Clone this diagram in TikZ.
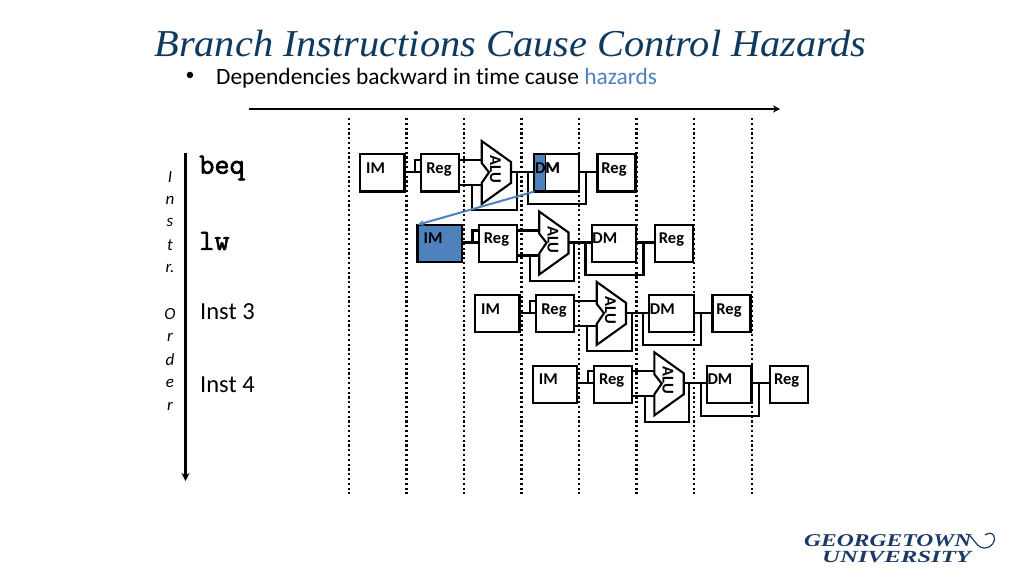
\documentclass[tikz,border=0pt]{standalone}
\usepackage{fontspec}
\setmainfont{Carlito}[Ligatures=CommonOff]
\newfontfamily\serifit{Liberation Serif}
\newfontfamily\monob{Latin Modern Mono}[FakeBold=2]
\usetikzlibrary{arrows.meta,calc}
\definecolor{titlecol}{HTML}{0F3A5F}
\definecolor{accent}{HTML}{4F81BD}
\definecolor{logocol}{HTML}{1C3A66}
\tikzset{
  stagebox/.style={draw=black,line width=2.1pt,fill=white,minimum width=44.5pt,minimum height=37.2pt,inner sep=0pt,outer sep=0pt},
  regbox/.style={stagebox,minimum width=38pt},
  stagetext/.style={font=\fontsize{16.5}{17}\selectfont\bfseries,inner sep=0pt},
  wire/.style={draw=black,line width=2.1pt,line join=miter},
  timeline/.style={draw=black,line width=2.1pt,dash pattern=on 2.2pt off 2.6pt},
  toparrow/.style={draw=black,line width=2pt,-{Stealth[length=7pt,width=7pt]}},
  sidearrow/.style={draw=black,line width=2.5pt,-{Stealth[length=8pt,width=8pt]}},
  ordertext/.style={font=\fontsize{17}{17}\selectfont\itshape,inner sep=0pt},
  instmono/.style={font=\fontsize{29.5}{30}\selectfont\monob,anchor=west,inner sep=0pt},
  insttext/.style={font=\fontsize{24.5}{25}\selectfont,anchor=west,inner sep=0pt},
}
\newcommand{\pipeline}[4]{% #1 suffix, #2 x of IM west, #3 y of box top, #4 IM fill
  \begin{scope}[shift={(#2,#3)}]
    % boxes
    \node[stagebox,anchor=north west,fill=#4] (im#1) at (0,0) {};
    \node[regbox,anchor=north west] (rega#1) at (61.4,0) {};
    \node[stagebox,anchor=north west] (dm#1) at (174.3,0) {};
    \node[regbox,anchor=north west] (regb#1) at (237.5,0) {};
    % ALU
    \coordinate (alua#1) at (121.7,-13.3);
    \coordinate (alub#1) at (151,7.7);
    \coordinate (aluc#1) at (151,28.7);
    \coordinate (alud#1) at (121.7,49.7);
    \coordinate (alue#1) at (121.7,28.7);
    \coordinate (aluf#1) at (129,18);
    \coordinate (alug#1) at (121.7,8.7);
    % wires
    \draw[wire] (im#1.east |- 0,17.7) -- (rega#1.west |- 0,17.7);
    \draw[wire] (55,17.7) -- (55,5.7) -- (rega#1.west |- 0,5.7);
    \draw[wire] (rega#1.east |- 0,5.7) -- (121.7,5.7);
    \draw[wire] (rega#1.east |- 0,30.7) -- (121.7,30.7);
    \draw[wire] (112.3,30.7) -- (112.3,56) -- (156.6,56) -- (156.6,17.7);
    \draw[wire] (aluc#1 |- 0,17.7) -- (dm#1.west |- 0,17.7);
    \draw[wire] (168,17.7) -- (168,50) -- (226,50) -- (226,17.7);
    \draw[wire] (dm#1.east |- 0,17.7) -- (regb#1.west |- 0,17.7);
    \draw[line width=2.1pt,fill=white,line join=miter] (alua#1) -- (alub#1) -- (aluc#1) -- (alud#1) -- (alue#1) -- (aluf#1) -- (alug#1) -- cycle;
    % labels
    \node[stagetext] (imt#1) at (15.6,13.5) {IM};
    \node[stagetext] (regat#1) at (79,15) {Reg};
    \node[stagetext] (dmt#1) at (187.3,13.5) {DM};
    \node[stagetext] (regbt#1) at (254,15) {Reg};
    \node[stagetext,rotate=-90] (alut#1) at (135.3,15) {ALU};
  \end{scope}
}
\begin{document}
\begin{tikzpicture}[x=1pt,y=-1pt]
\useasboundingbox (0,0) rectangle (1024,576);
\fill[white] (0,0) rectangle (1024,576);
% title
\node[text=titlecol,inner sep=0pt] (title) at (510.5,44) {\fontsize{38}{38}\selectfont\serifit\itshape \scalebox{1.062}[1]{Branch Instructions Cause Control Hazards}};
\node[inner sep=0pt,anchor=center] (bullet) at (190,76.5) {\fontsize{18}{18}\selectfont •};
\node[inner sep=0pt,anchor=west] (subtitle) at (216,78) {\fontsize{23.4}{24}\selectfont Dependencies backward in time cause \textcolor{accent}{hazards}};
% axes
\coordinate (ts) at (249,109); \coordinate (te) at (780,109);
\draw[toparrow] (ts) -- (te);
\coordinate (os) at (185.5,153); \coordinate (oe) at (185.5,481);
\draw[sidearrow] (os) -- (oe);
% timeline dotted
\foreach \x [count=\i] in {349,406.5,464,521.5,579,636.5,694,752}{
  \coordinate (tlt\i) at (\x,118); \coordinate (tlb\i) at (\x,494);
  \draw[timeline] (tlt\i) -- (tlb\i);
}
% order text
\foreach \c/\y in {I/177,n/200,s/222,t/245,r./268,O/314,r/337,d/360,e/383,r/406}{
  \node[ordertext] (ord\y) at (170,\y) {\c};
}
% instruction names
\node[instmono] (beq) at (199,168) {beq};
\node[instmono] (lw) at (199,241) {lw};
\node[insttext] (i3) at (200,311.5) {Inst 3};
\node[insttext] (i4) at (200,384.5) {Inst 4};
% pipelines
\pipeline{D}{532.7}{365.6}{white}
\pipeline{C}{475}{295.2}{white}
\pipeline{B}{417.5}{224.8}{accent}
\pipeline{A}{360}{154.3}{white}
% blue part of DM
\fill[accent] (dmA.north west) rectangle ($(dmA.south west)+(11,0)$);
\draw[line width=2.1pt] (dmA.south west) -- (dmA.north west) -- (dmA.north east);
\draw[line width=2.1pt] (dmA.south west) -- (dmA.south east);
\draw[line width=0.8pt] ($(dmA.north west)+(11,0)$) -- ($(dmA.south west)+(11,0)$);
\node[stagetext] (dmtA2) at (547.6,167.8) {DM};
% hazard arrow
\draw[accent,line width=2pt,-{Stealth[length=7pt,width=6pt]}] (dmA.south west) -- (imB.north west);
% logo
\node[text=logocol,inner sep=0pt,anchor=west] (logoa) at (804,540.5) {\fontsize{18}{18}\selectfont\serifit\itshape\bfseries \scalebox{1.31}[1]{GEORGETOWN}};
\node[text=logocol,inner sep=0pt,anchor=west] (logob) at (822,557) {\fontsize{17}{17}\selectfont\serifit\itshape\bfseries \scalebox{1.46}[1]{UNIVERSITY}};
\draw[logocol,line width=1.2pt] (966,534) .. controls (972,534) and (976,548) .. (984,548) .. controls (992,548) and (996,541) .. (994,536) .. controls (992,532) and (988,533) .. (985,535);
\end{tikzpicture}
\end{document}
